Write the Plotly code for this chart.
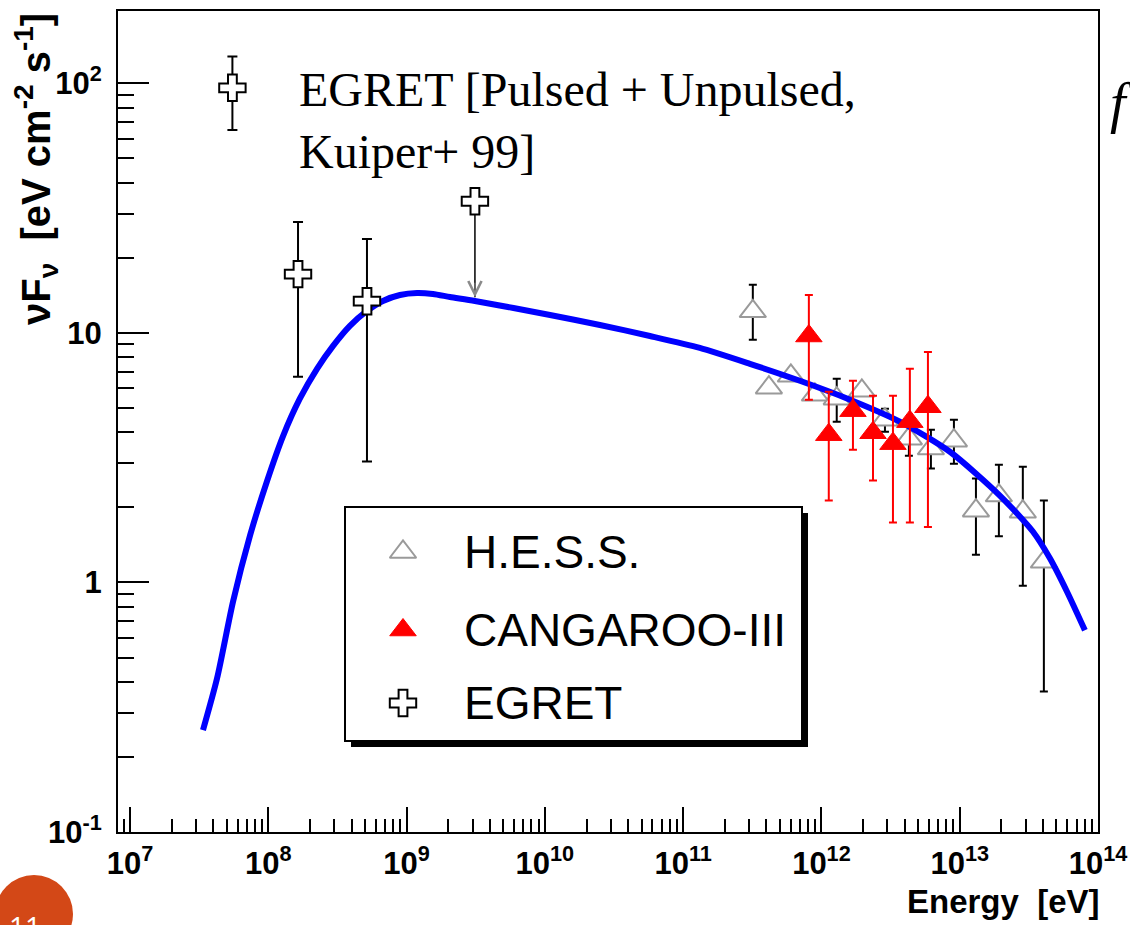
import numpy as np
import plotly.graph_objects as go

# ---------------- data (E in eV, nuF_nu in eV cm^-2 s^-1) ----------------
model_E = [3.37e7, 4.26e7, 5.56e7, 7.37e7, 9.77e7, 1.28e8, 1.69e8, 2.25e8, 2.94e8,
           3.89e8, 5.17e8, 6.74e8, 8.95e8, 1.19e9, 1.55e9, 2.06e9, 3.12e9, 1.09e10,
           2.50e10, 5.75e10, 1.32e11, 3.04e11, 6.98e11, 1.61e12, 3.69e12, 8.49e12,
           1.95e13, 3.38e13, 4.49e13, 5.96e13, 8.04e13]
model_F = [0.256, 0.413, 0.839, 1.54, 2.54, 3.87, 5.45, 7.18, 8.87,
           10.67, 12.25, 13.43, 14.19, 14.45, 14.32, 13.93, 13.43, 11.8,
           10.76, 9.72, 8.71, 7.52, 6.43, 5.40, 4.41, 3.34,
           2.23, 1.60, 1.25, 0.92, 0.643]

hess_E = [3.19e11, 4.17e11, 6.01e11, 8.97e11, 1.29e12, 1.96e12, 2.88e12,
          4.29e12, 6.19e12, 9.08e12, 1.31e13, 1.92e13, 2.86e13, 4.06e13]
hess_F = [12.2, 6.03, 6.73, 5.65, 5.45, 5.86, 4.49,
          3.77, 3.44, 3.70, 1.94, 2.23, 1.92, 1.21]
hess_hi = [15.6, 6.03, 6.73, 5.65, 6.55, 5.86, 4.97,
           4.30, 4.09, 4.49, 2.61, 2.96, 2.91, 2.13]
hess_lo = [9.38, 6.03, 6.73, 5.65, 4.41, 5.86, 4.02,
           3.22, 2.86, 2.99, 1.29, 1.53, 0.97, 0.366]

cang_E = [8.11e11, 1.13e12, 1.69e12, 2.36e12, 3.29e12, 4.36e12, 5.89e12]
cang_F = [9.72, 3.91, 4.88, 3.98, 3.60, 4.41, 5.06]
cang_hi = [14.2, 5.81, 6.43, 5.60, 5.60, 7.18, 8.39]
cang_lo = [5.40, 2.13, 3.40, 2.56, 1.74, 1.74, 1.67]

egret_E = [1.64e8, 5.17e8]
egret_F = [17.2, 13.4]
egret_hi = [27.8, 23.8]
egret_lo = [6.67, 3.05]

# EGRET upper limit
egret_ul_E = [3.12e9]
egret_ul_F = [33.7]
egret_ul_tip = [13.9]

# EGRET key symbol next to the note
key_E = [5.5e7]
key_F = [96.0]
key_hi = [128.0]
key_lo = [65.0]

x_tick_vals = [1e7, 1e8, 1e9, 1e10, 1e11, 1e12, 1e13, 1e14]
x_tick_text = ["10<sup>7</sup>", "10<sup>8</sup>", "10<sup>9</sup>", "10<sup>10</sup>",
               "10<sup>11</sup>", "10<sup>12</sup>", "10<sup>13</sup>", "10<sup>14</sup>"]
y_tick_vals = [0.1, 1, 10, 100]
y_tick_text = ["10<sup>-1</sup>", "1", "10", "10<sup>2</sup>"]

legend_names = ["H.E.S.S.", "CANGAROO-III", "EGRET"]

# ---------------- helpers ----------------
W, H = 1130, 925
L, R, T, B = 118, 32, 11, 93
PW, PH = W - L - R, H - T - B


def px_x(p):
    return (p - L) / PW


def px_y(p):
    return (H - B - p) / PH


def err(vals, hi, lo):
    v = np.array(vals, float)
    return dict(type="data", symmetric=False,
                array=np.array(hi, float) - v, arrayminus=v - np.array(lo, float))


fig = go.Figure()

# H.E.S.S. (drawn first, under the model curve)
fig.add_trace(go.Scatter(
    x=hess_E, y=hess_F, mode="markers",
    marker=dict(symbol="triangle-up", size=23, color="white",
                line=dict(color="#9a9a9a", width=2)),
    error_y=dict(**err(hess_F, hess_hi, hess_lo), color="black", thickness=2, width=4),
))

# model curve
fig.add_trace(go.Scatter(
    x=model_E, y=model_F, mode="lines",
    line=dict(color="#0000ff", width=6, shape="spline", smoothing=0.7),
))

# CANGAROO-III
fig.add_trace(go.Scatter(
    x=cang_E, y=cang_F, mode="markers",
    marker=dict(symbol="triangle-up", size=23, color="#ff0000",
                line=dict(color="#ff0000", width=1)),
    error_y=dict(**err(cang_F, cang_hi, cang_lo), color="#ff0000", thickness=2, width=4),
))

# EGRET points
fig.add_trace(go.Scatter(
    x=egret_E, y=egret_F, mode="markers",
    marker=dict(symbol="cross", size=22, color="white",
                line=dict(color="black", width=2)),
    error_y=dict(**err(egret_F, egret_hi, egret_lo), color="black", thickness=2, width=5),
))

# EGRET upper limit: line down to the arrow tip
fig.add_trace(go.Scatter(
    x=egret_ul_E, y=egret_ul_F, mode="markers",
    marker=dict(symbol="cross", size=22, color="white",
                line=dict(color="black", width=2)),
    error_y=dict(type="data", symmetric=False, array=[0],
                 arrayminus=np.array(egret_ul_F) - np.array(egret_ul_tip),
                 color="black", thickness=1.5, width=0),
))

# key symbol for the EGRET note
fig.add_trace(go.Scatter(
    x=key_E, y=key_F, mode="markers",
    marker=dict(symbol="cross", size=22, color="white",
                line=dict(color="black", width=2)),
    error_y=dict(**err(key_F, key_hi, key_lo), color="black", thickness=2, width=5),
))

# legend symbols on an overlay axis spanning the plot area
leg_x = px_x(403)
leg_rows = [px_y(552), px_y(630), px_y(703)]
leg_styles = [
    dict(symbol="triangle-up", size=23, color="white", line=dict(color="#9a9a9a", width=2)),
    dict(symbol="triangle-up", size=23, color="#ff0000", line=dict(color="#ff0000", width=1)),
    dict(symbol="cross", size=22, color="white", line=dict(color="black", width=2)),
]
for yy, st in zip(leg_rows, leg_styles):
    fig.add_trace(go.Scatter(x=[leg_x], y=[yy], mode="markers", marker=st,
                             xaxis="x2", yaxis="y2", hoverinfo="skip"))

tickfont = dict(family="Liberation Sans", size=31, color="black", weight="bold")
axis_common = dict(
    type="log", showgrid=False, zeroline=False, showline=True, linecolor="black",
    linewidth=2, mirror=True, ticks="inside", tickwidth=2, tickcolor="black",
    tickmode="array", tickfont=tickfont, automargin=False,
)

x_minor = [k * 10.0 ** d for d in range(6, 14) for k in range(2, 10)]
y_minor = [k * 10.0 ** d for d in range(-1, 3) for k in range(2, 10)]

fig.update_layout(
    width=W, height=H, margin=dict(l=L, r=R, t=T, b=B, autoexpand=False),
    paper_bgcolor="white", plot_bgcolor="white", showlegend=False,
    xaxis=dict(**axis_common, range=[6.913, 14], ticklen=25,
               tickvals=x_tick_vals, ticktext=x_tick_text, ticklabelstandoff=3,
               minor=dict(ticks="inside", ticklen=13, tickwidth=2, tickcolor="black",
                          tickmode="array", tickvals=x_minor, showgrid=False)),
    yaxis=dict(**axis_common, range=[-1.0, 2.29], ticklen=31,
               tickvals=y_tick_vals, ticktext=y_tick_text, ticklabelstandoff=8,
               minor=dict(ticks="inside", ticklen=16, tickwidth=2, tickcolor="black",
                          tickmode="array", tickvals=y_minor, showgrid=False)),
    xaxis2=dict(overlaying="x", anchor="y2", range=[0, 1], visible=False,
                fixedrange=True, automargin=False),
    yaxis2=dict(overlaying="y", anchor="x2", range=[0, 1], visible=False,
                fixedrange=True, automargin=False),
)

# legend frame with drop shadow
fig.add_shape(type="rect", xref="paper", yref="paper", xsizemode="pixel", ysizemode="pixel",
              xanchor=0, yanchor=0, x0=345 - L + 6, x1=802 - L + 6,
              y0=H - B - 741 - 6, y1=H - B - 507 - 6,
              fillcolor="black", line=dict(width=0), layer="below")
fig.add_shape(type="rect", xref="paper", yref="paper", xsizemode="pixel", ysizemode="pixel",
              xanchor=0, yanchor=0, x0=345 - L, x1=802 - L,
              y0=H - B - 741, y1=H - B - 507,
              fillcolor="white", line=dict(color="black", width=2), layer="below")

# page number badge
fig.add_shape(type="circle", xref="paper", yref="paper", xsizemode="pixel", ysizemode="pixel",
              xanchor=0, yanchor=0, x0=-5 - L, x1=73 - L, y0=H - B - 953, y1=H - B - 875,
              fillcolor="#d34817", line=dict(width=0))

# EGRET upper-limit arrow head
fig.add_annotation(x=np.log10(egret_ul_E[0]), y=np.log10(egret_ul_tip[0]), xref="x", yref="y",
                   ax=0, ay=-16, showarrow=True, arrowhead=5, arrowsize=2.6, arrowwidth=1,
                   arrowcolor="#8a8a8a", text="")

for yy, name in zip(leg_rows, legend_names):
    fig.add_annotation(x=px_x(462), y=yy, xref="paper", yref="paper", xanchor="left",
                       yanchor="middle", showarrow=False, text=name,
                       font=dict(family="Liberation Sans", size=46, color="black"))

fig.add_annotation(x=0, xshift=-82, y=1, yshift=0, xref="paper", yref="paper",
                   xanchor="center", yanchor="top", textangle=-90, showarrow=False,
                   text="νF<sub>ν</sub>\u00a0\u00a0[eV cm<sup>-2</sup> s<sup>-1</sup>]",
                   font=dict(family="Liberation Sans", size=40, color="black", weight="bold"))

fig.add_annotation(x=1, xshift=4, y=0, yshift=-49, xref="paper", yref="paper",
                   xanchor="right", yanchor="top", showarrow=False,
                   text="Energy\u00a0\u00a0[eV]",
                   font=dict(family="Liberation Sans", size=33, color="black", weight="bold"))

fig.add_annotation(x=px_x(297), y=px_y(61), xref="paper", yref="paper",
                   xanchor="left", yanchor="top", align="left", showarrow=False,
                   text="EGRET [Pulsed + Unpulsed,<br>Kuiper+ 99]",
                   font=dict(family="Liberation Serif", size=48, color="black"))

fig.add_annotation(x=px_x(1108), y=px_y(70), xref="paper", yref="paper",
                   xanchor="left", yanchor="top", showarrow=False, text="<i>f</i>",
                   font=dict(family="Liberation Serif", size=56, color="black"))

fig.add_annotation(x=0, xshift=25 - L, y=0, yshift=-(905 - (H - B)), xref="paper", yref="paper",
                   xanchor="center", yanchor="top", showarrow=False, text="11",
                   font=dict(family="Open Sans", size=28, color="white"))

fig.write_html("out.html")
